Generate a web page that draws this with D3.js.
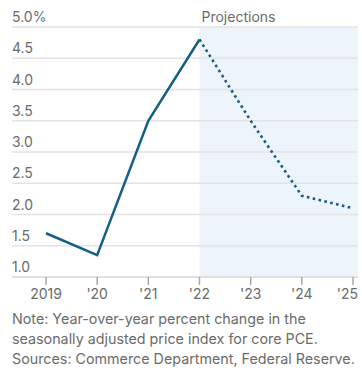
<!DOCTYPE html>
<html>
<head>
<meta charset="utf-8">
<script src="https://cdn.jsdelivr.net/npm/d3@7"></script>
<style>
  body { margin: 0; background: #fff; }
  svg text { font-family: Inter, Roboto, sans-serif; fill: #6b6b6b; }
</style>
</head>
<body>
<svg id="chart"></svg>
<script>
const width = 362, height = 375;

// data
const years = [2019, 2020, 2021, 2022, 2023, 2024, 2025];
const yearLabels = ["2019", "'20", "'21", "'22", "'23", "'24", "'25"];
const actualYears = [2019, 2020, 2021, 2022];
const actualValues = [1.7, 1.35, 3.5, 4.8];
const projYears = [2022, 2023, 2024, 2025];
const projValues = [4.8, 3.5, 2.3, 2.1];
const yTicks = [1.0, 1.5, 2.0, 2.5, 3.0, 3.5, 4.0, 4.5, 5.0];
const noteLines = [
    "Note: Year-over-year percent change in the",
    "seasonally adjusted price index for core PCE.",
    "Sources: Commerce Department, Federal Reserve."
];

const svg = d3.select("#chart")
    .attr("width", width)
    .attr("height", height);

const left = 12, right = 358;

const x = d3.scaleLinear().domain([2019, 2025]).range([46, 353]);
const y = d3.scaleLinear().domain([1, 5]).range([277, 27]);

// Projection shading
svg.append("rect")
    .attr("x", x(2022))
    .attr("y", y(5))
    .attr("width", right - x(2022))
    .attr("height", y(1) - y(5))
    .attr("fill", "#eef4fb");

// Gridlines
svg.selectAll(".grid")
    .data(yTicks)
    .join("line")
    .attr("x1", left)
    .attr("x2", right)
    .attr("y1", d => y(d))
    .attr("y2", d => y(d))
    .attr("stroke", d => d === 1 ? "#d6d6d6" : "#e3e3e3")
    .attr("stroke-width", 1.5);

// Y labels sit above gridlines
svg.selectAll(".ylab")
    .data(yTicks)
    .join("text")
    .attr("x", left)
    .attr("y", d => y(d) - 5)
    .attr("font-size", 14)
    .text(d => d === 5 ? "5.0%" : d.toFixed(1));

// X ticks
svg.selectAll(".xtick")
    .data(years)
    .join("line")
    .attr("x1", d => x(d))
    .attr("x2", d => x(d))
    .attr("y1", y(1))
    .attr("y2", y(1) + 8)
    .attr("stroke", "#a8a8a8")
    .attr("stroke-width", 1.5);

// last label is pulled in so it stays on the page
svg.selectAll(".xlab")
    .data(years)
    .join("text")
    .attr("x", (d, i) => i === years.length - 1 ? width - 4 : x(d))
    .attr("y", 299)
    .attr("text-anchor", (d, i) => i === years.length - 1 ? "end" : "middle")
    .attr("font-size", 14)
    .text((d, i) => yearLabels[i]);

svg.append("text")
    .attr("x", x(2022) + 2)
    .attr("y", 22)
    .attr("font-size", 14)
    .text("Projections");

const line = d3.line().x(d => x(d[0])).y(d => y(d[1]));

svg.append("path")
    .datum(d3.zip(actualYears, actualValues))
    .attr("d", line)
    .attr("fill", "none")
    .attr("stroke", "#155f86")
    .attr("stroke-width", 2.5)
    .attr("stroke-linejoin", "miter");

svg.append("path")
    .datum(d3.zip(projYears, projValues))
    .attr("d", line)
    .attr("fill", "none")
    .attr("stroke", "#155f86")
    .attr("stroke-width", 2.6)
    .attr("stroke-dasharray", "2.6 3.4");

// Note
svg.selectAll(".note")
    .data(noteLines)
    .join("text")
    .attr("x", left)
    .attr("y", (d, i) => 324 + i * 20)
    .attr("font-size", 14.3)
    .text(d => d);
</script>
</body>
</html>
